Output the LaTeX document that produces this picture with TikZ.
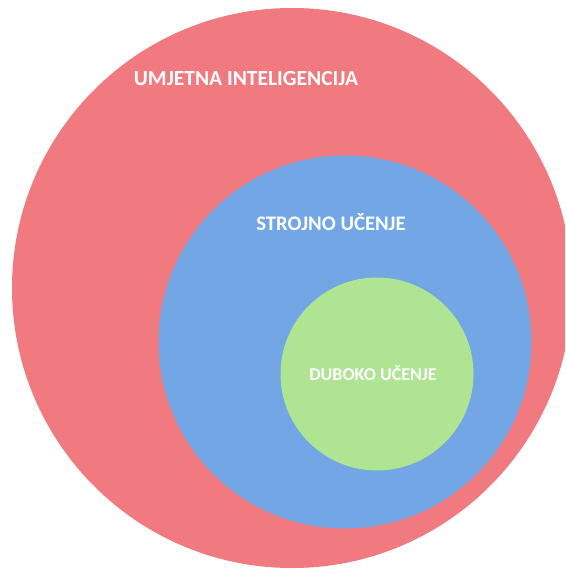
\documentclass[tikz,border=0pt]{standalone}
\usepackage{fontspec}
\setmainfont{Carlito}
\usepackage{tikz}
\usetikzlibrary{positioning}
\definecolor{aired}{RGB}{240,122,127}
\definecolor{mlblue}{RGB}{115,166,228}
\definecolor{dlgreen}{RGB}{174,228,146}

\begin{document}
\begin{tikzpicture}[x=1pt, y=-1pt, label/.style={text=white, font=\bfseries}]
    \useasboundingbox (0,0) rectangle (565,569);
    \clip (0,0) rectangle (565,569);
    \fill[white] (0,0) rectangle (565,569);

    \node[circle, fill=aired, inner sep=0pt, minimum size=560pt] (ai) at (292,288) {};
    \node[circle, fill=mlblue, inner sep=0pt, minimum size=373pt] (ml) at (345,342) {};
    \node[circle, fill=dlgreen, inner sep=0pt, minimum size=193pt] (dl) at (377,374) {};

    \node[label, font=\bfseries\fontsize{21.5}{24}\selectfont] (ailabel) at (246,79) {UMJETNA INTELIGENCIJA};
    \node[label, font=\bfseries\fontsize{20.7}{24}\selectfont] (mllabel) at (331,222) {STROJNO UČENJE};
    \node[label, font=\bfseries\fontsize{18}{20}\selectfont] (dllabel) at (373,373) {DUBOKO UČENJE};
\end{tikzpicture}
\end{document}
